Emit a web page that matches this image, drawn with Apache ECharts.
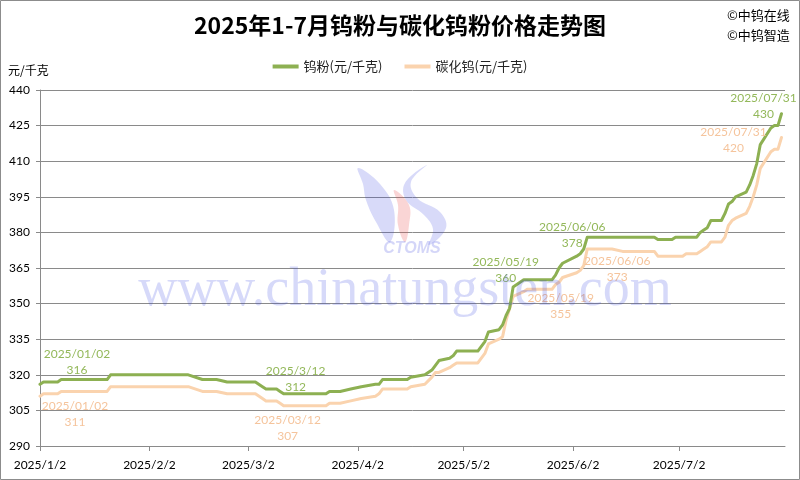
<!DOCTYPE html>
<html>
<head>
<meta charset="utf-8">
<script src="https://cdn.jsdelivr.net/npm/echarts@6/dist/echarts.min.js"></script>
<style>
html,body{margin:0;padding:0;background:#fff;}
#chart{width:800px;height:480px;}
</style>
</head>
<body>
<div id="chart"></div>
<script>
// ---------- DATA ----------
const dates = [
 '2025-01-02','2025-01-03','2025-01-07','2025-01-08','2025-01-21','2025-01-22',
 '2025-02-13','2025-02-17','2025-02-21','2025-02-24',
 '2025-03-04','2025-03-06','2025-03-07','2025-03-10','2025-03-11','2025-03-12',
 '2025-03-24','2025-03-25','2025-03-28','2025-03-31',
 '2025-04-03','2025-04-07','2025-04-08','2025-04-09','2025-04-16','2025-04-17',
 '2025-04-21','2025-04-23','2025-04-24','2025-04-25','2025-04-28','2025-04-29','2025-04-30',
 '2025-05-06','2025-05-07','2025-05-08','2025-05-09','2025-05-12','2025-05-13','2025-05-14',
 '2025-05-15','2025-05-16','2025-05-19','2025-05-20','2025-05-27','2025-05-28','2025-05-29','2025-05-30',
 '2025-06-03','2025-06-04','2025-06-05','2025-06-06','2025-06-13','2025-06-16','2025-06-25','2025-06-26','2025-06-30',
 '2025-07-01','2025-07-03','2025-07-04','2025-07-07','2025-07-08','2025-07-09','2025-07-10','2025-07-11',
 '2025-07-14','2025-07-15','2025-07-16','2025-07-17','2025-07-18','2025-07-21','2025-07-22','2025-07-23',
 '2025-07-24','2025-07-25','2025-07-28','2025-07-29','2025-07-30','2025-07-31'
];
const tungstenPowder = [
 316,317,317,318,318,320,
 320,318,318,317,
 317,315,314,314,313,312,
 312,313,313,314,
 315,316,316,318,318,319,
 320,322,324,326,327,328,330,
 330,332,334,338,339,341,345,
 348,357,360,360,360,362,365,367,
 370,371,373,378,378,378,378,377,377,
 378,378,378,378,380,381,382,385,
 385,388,392,393,395,397,400,404,
 409,417,424,425,425,430
];
const tungstenCarbide = [
 311,312,312,313,313,315,
 315,313,313,312,
 312,310,309,309,308,307,
 307,308,308,309,
 310,311,312,314,314,315,
 316,319,321,321,323,324,325,
 325,327,329,333,335,336,343,
 348,353,355,356,356,358,359,361,
 363,364,366,373,373,372,372,370,370,
 370,370,371,371,372,373,374,376,
 376,378,383,385,386,388,391,395,
 400,407,414,415,415,420
];
const seriesNames = ['钨粉(元/千克)', '碳化钨(元/千克)'];
const xTickDates = ['2025-01-02','2025-02-02','2025-03-02','2025-04-02','2025-05-02','2025-06-02','2025-07-02'];
const xMin = '2025-01-02';
const xMax = '2025-08-01';
const yMin = 290, yMax = 440, yStep = 15;

const noteDates = ['2025-01-02','2025-03-12','2025-05-19','2025-06-06','2025-07-31'];
const powderNoteTexts = ['2025/01/02','2025/3/12','2025/05/19','2025/06/06','2025/07/31'];
const carbideNoteTexts = ['2025/01/02','2025/03/12','2025/05/19','2025/06/06','2025/07/31'];

// ---------- LAYOUT (label offsets relative to point) ----------
const powderNoteOffsets = [[37,-22],[12,-15],[-18,-10],[-15,-2],[-18,-8]];
const carbideNoteOffsets = [[35,18],[4,22],[37,14],[30,20],[-48,3]];

const GREEN = '#8db052';
const ORANGE = '#fad3ae';
const GREEN_TXT = '#93b85a';
const ORANGE_TXT = '#f5c49c';
const GRID = '#8a8a8a';
const LATIN = 'Lato, "Noto Sans CJK SC", sans-serif';
const CJK = '"Noto Sans CJK SC", sans-serif';

function toTime(s){ const p = s.split('-'); return new Date(+p[0], +p[1]-1, +p[2]).getTime(); }

function makeSeriesData(vals){ return dates.map((d,i)=>[toTime(d), vals[i]]); }

function makeNotes(vals, texts, offsets, color){
  return noteDates.map((d,i)=>{
    const v = vals[dates.indexOf(d)];
    return {
      coord: [toTime(d), v],
      label: { formatter: texts[i] + '\n' + v, offset: offsets[i], color: color }
    };
  });
}

const chart = echarts.init(document.getElementById('chart'), null, {renderer:'canvas'});

const noteLabel = { show:true, position:'inside', fontFamily: LATIN, fontSize: 12, lineHeight: 16, align:'center' };
const tickTimes = xTickDates.map(toTime);

const option = {
  animation: false,
  backgroundColor: '#ffffff',
  title: {
    text: '2025年1-7月钨粉与碳化钨粉价格走势图',
    left: 'center', top: 9,
    textStyle: { fontFamily: CJK, fontSize: 23, fontWeight: 'bold', color: '#000' }
  },
  legend: {
    top: 55, left: 'center',
    itemWidth: 26, itemHeight: 4, itemGap: 22,
    icon: 'rect',
    textStyle: { fontFamily: CJK, fontSize: 13, color: '#222' },
    data: seriesNames
  },
  grid: { left: 40, right: 15, top: 90, bottom: 34, containLabel: false },
  xAxis: {
    type: 'value',
    min: toTime(xMin), max: toTime(xMax),
    axisLine: { show: true, lineStyle: { color: GRID, width: 1 } },
    axisTick: { show: true, length: 5, lineStyle: { color: GRID }, customValues: tickTimes },
    axisLabel: {
      customValues: tickTimes,
      formatter: function(v){ const d = new Date(v); return d.getFullYear()+'/'+(d.getMonth()+1)+'/'+d.getDate(); },
      fontFamily: LATIN, fontSize: 12, color: '#000', margin: 13, hideOverlap: false
    },
    splitLine: { show: false }
  },
  yAxis: {
    type: 'value',
    min: yMin, max: yMax, interval: yStep,
    axisLine: { show: true, lineStyle: { color: GRID, width: 1 } },
    axisTick: { show: true, length: 4, lineStyle: { color: GRID } },
    axisLabel: { fontFamily: LATIN, fontSize: 12, color: '#000', margin: 10 },
    splitLine: { show: true, lineStyle: { color: GRID, width: 1 } }
  },
  series: [
    {
      name: seriesNames[0], type: 'line', showSymbol: false, symbol: 'none',
      data: makeSeriesData(tungstenPowder),
      itemStyle: { color: GREEN },
      lineStyle: { color: GREEN, width: 3, join: 'round', cap: 'round' },
      z: 3,
      markPoint: {
        symbol: 'circle', symbolSize: 1, itemStyle: { color: 'rgba(0,0,0,0)' },
        label: Object.assign({}, noteLabel, { color: GREEN_TXT }),
        data: makeNotes(tungstenPowder, powderNoteTexts, powderNoteOffsets, GREEN_TXT)
      }
    },
    {
      name: seriesNames[1], type: 'line', showSymbol: false, symbol: 'none',
      data: makeSeriesData(tungstenCarbide),
      itemStyle: { color: ORANGE },
      lineStyle: { color: ORANGE, width: 3, join: 'round', cap: 'round' },
      z: 2,
      markPoint: {
        symbol: 'circle', symbolSize: 1, itemStyle: { color: 'rgba(0,0,0,0)' },
        label: Object.assign({}, noteLabel, { color: ORANGE_TXT }),
        data: makeNotes(tungstenCarbide, carbideNoteTexts, carbideNoteOffsets, ORANGE_TXT)
      }
    }
  ],
  graphic: [
    { type: 'rect', z: 100, silent: true, shape: { x: 0.5, y: 0.5, width: 799, height: 479 },
      style: { fill: 'none', stroke: '#8c8c8c', lineWidth: 1 } },
    { type: 'text', left: 8, top: 64, style: { text: '元/千克', fontFamily: CJK, fontSize: 12, fill: '#000' } },
    { type: 'text', left: 727, top: 9, style: { text: '©中钨在线', fontFamily: CJK, fontSize: 13, fill: '#000' } },
    { type: 'text', left: 727, top: 29, style: { text: '©中钨智造', fontFamily: CJK, fontSize: 13, fill: '#000' } },
    { type: 'polygon', z: 50, silent: true,
      shape: { points: [[358,168],[380,184],[394,210],[390,242],[376,222],[366,200],[363,184]], smooth: 0.4 },
      style: { fill: 'rgba(60,70,225,0.2)' } },
    { type: 'polygon', z: 50, silent: true,
      shape: { points: [[427,165],[411,182],[417,198],[440,212],[446,228],[429,245],[433,229],[424,215],[406,200],[405,183]], smooth: 0.4 },
      style: { fill: 'rgba(60,70,225,0.2)' } },
    { type: 'polygon', z: 50, silent: true,
      shape: { points: [[394,190],[409,205],[409,225],[405,242],[398,225],[398,205]], smooth: 0.4 },
      style: { fill: 'rgba(235,80,80,0.24)' } },
    { type: 'text', z: 50, silent: true, style: { x: 412, y: 249, text: 'CTOMS', fontFamily: 'Liberation Sans', fontStyle: 'italic', fontWeight: 'bold', fontSize: 16, fill: 'rgba(60,70,225,0.22)', align: 'center', verticalAlign: 'middle' } },
    { type: 'text', z: 50, silent: true, style: { x: 405, y: 291, text: 'www.chinatungsten.com', fontFamily: '"Liberation Serif", serif', fontSize: 54, fill: 'rgba(48,64,224,0.2)', align: 'center', verticalAlign: 'middle' } }
  ]
};
chart.setOption(option);
</script>
</body>
</html>
